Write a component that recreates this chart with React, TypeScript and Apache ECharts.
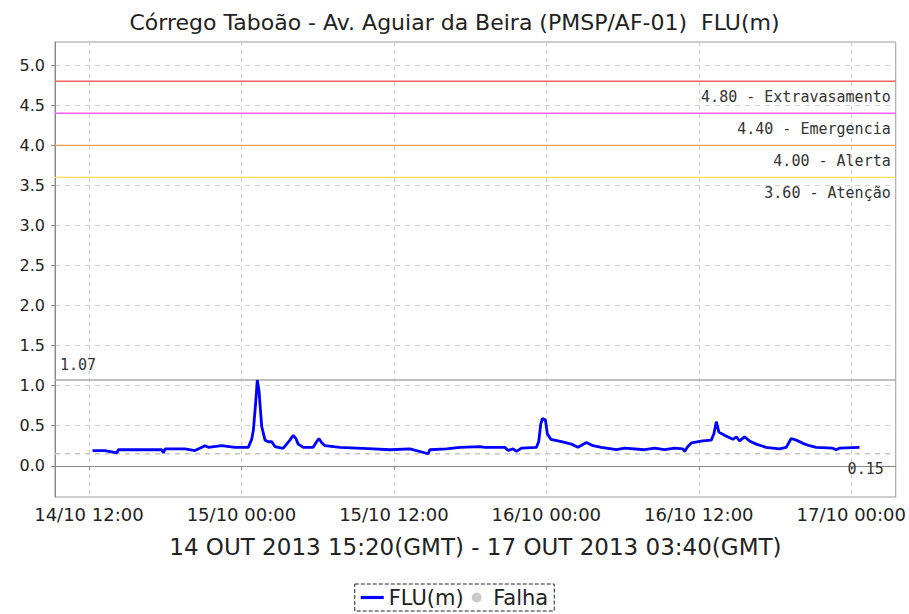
import React, { useEffect, useRef } from "react";
import * as echarts from "echarts";

// hours since 14/10/2013 00:00 (local, GMT-3)
const timeHours = [
  12.28, 13.27, 14.19, 14.32, 15.89, 17.73, 17.86, 17.99, 19.56, 20.35, 21.14, 21.4, 22.45, 23.5,
  24.54, 24.81, 24.94, 25.12, 25.25, 25.38, 25.46, 25.6, 25.86, 26.12, 26.39, 26.64, 27.17, 27.3,
  27.82, 28.08, 28.29, 28.47, 28.87, 29.65, 29.92, 30.1, 30.31, 30.57, 31.75, 33.07, 34.37, 35.69,
  37.26, 38.7, 38.83, 40.14, 41.19, 42.76, 43.15, 44.73, 44.99, 45.38, 45.65, 46.04, 47.22, 47.4,
  47.56, 47.69, 47.93, 48.08, 48.35, 49.19, 49.97, 50.49, 51.15, 51.67, 52.33, 53.51, 54.16, 55.74,
  56.52, 57.31, 58.1, 58.75, 58.88, 59.14, 59.41, 60.32, 60.98, 61.19, 61.38, 61.58, 62.03, 62.42,
  62.68, 62.95, 63.21, 63.6, 63.99, 64.52, 65.3, 66.35, 66.88, 67.27, 67.67, 68.19, 68.71, 69.24,
  70.55, 70.81, 71.07, 72.65,
];
const fluValues = [
  0.19, 0.19, 0.16, 0.2, 0.2, 0.2, 0.16, 0.21, 0.21, 0.19, 0.25, 0.23, 0.25, 0.23,
  0.23, 0.33, 0.44, 0.78, 1.07, 0.95, 0.78, 0.49, 0.32, 0.3, 0.3, 0.24, 0.22, 0.22,
  0.32, 0.38, 0.34, 0.27, 0.23, 0.23, 0.3, 0.34, 0.29, 0.25, 0.23, 0.22, 0.21, 0.2,
  0.21, 0.15, 0.2, 0.21, 0.23, 0.24, 0.23, 0.23, 0.19, 0.21, 0.18, 0.22, 0.23, 0.3,
  0.52, 0.59, 0.57, 0.4, 0.33, 0.3, 0.27, 0.23, 0.29, 0.25, 0.23, 0.2, 0.22, 0.2,
  0.22, 0.2, 0.22, 0.21, 0.18, 0.24, 0.285, 0.31, 0.32, 0.4, 0.55, 0.42, 0.38, 0.35,
  0.33, 0.36, 0.31, 0.36, 0.31, 0.27, 0.23, 0.21, 0.23, 0.34, 0.32, 0.28, 0.25, 0.23,
  0.22, 0.2, 0.22, 0.23,
];

const xTickHours = [12, 24, 36, 48, 60, 72];
const xTickLabels = ["14/10 12:00", "15/10 00:00", "15/10 12:00", "16/10 00:00", "16/10 12:00", "17/10 00:00"];
const yTickValues = [0, 0.5, 1, 1.5, 2, 2.5, 3, 3.5, 4, 4.5, 5];

const thresholdValues = [4.8, 4.4, 4.0, 3.6];
const thresholdNames = ["Extravasamento", "Emergencia", "Alerta", "Atenção"];
const thresholdColors = ["#ff6060", "#ff60ff", "#ffa050", "#ffe050"];

const maxValue = 1.07;
const minValue = 0.15;

const titleText = "Córrego Taboão - Av. Aguiar da Beira (PMSP/AF-01)  FLU(m)";
const periodText = "14 OUT 2013 15:20(GMT) - 17 OUT 2013 03:40(GMT)";

const X_MIN = 9.33;
const X_MAX = 75.5;

export default function App() {
  const ref = useRef<HTMLDivElement>(null);
  useEffect(() => {
    if (!ref.current) return;
    const chart = echarts.init(ref.current, undefined, { renderer: "svg" });
    const labelFont = { fontFamily: "DejaVu Sans Mono", fontSize: 15, color: "#333" };

    // horizontal reference line drawn as a 2-point line series; its label is the end label
    const refLine = (
      name: string,
      value: number,
      color: string,
      type: any,
      atStart: boolean,
      offset: number[],
      text: string,
    ) => ({
      name,
      type: "line",
      data: atStart ? [[X_MAX, value], [X_MIN, value]] : [[X_MIN, value], [X_MAX, value]],
      symbol: "none",
      showSymbol: false,
      silent: true,
      color,
      lineStyle: { color, type, width: 1.4, opacity: 1 },
      endLabel: {
        show: true,
        formatter: text,
        align: atStart ? "left" : "right",
        verticalAlign: "middle",
        offset,
        ...labelFont,
      },
      emphasis: { disabled: true },
      z: 2,
    });

    const markerSeries: any[] = thresholdValues.map((v, i) =>
      refLine(
        "th" + i,
        v,
        thresholdColors[i],
        "solid",
        false,
        [-13, 16],
        `${v.toFixed(2)} - ${thresholdNames[i]}`,
      ),
    );
    markerSeries.push(refLine("max", maxValue, "#aaaaaa", "solid", true, [-3, -15], maxValue.toFixed(2)));
    markerSeries.push(refLine("min", minValue, "#c4c4c4", [5, 5], false, [-20, 15], minValue.toFixed(2)));

    chart.setOption({
      animation: false,
      backgroundColor: "#ffffff",
      title: {
        text: titleText,
        left: "center",
        top: 6,
        textStyle: { fontFamily: "DejaVu Sans", fontSize: 22, fontWeight: "normal", color: "#222" },
      },
      grid: { left: 55, top: 42, right: 13, bottom: 117, show: true, borderColor: "#999", borderWidth: 1 },
      legend: {
        bottom: 3,
        left: "center",
        data: [
          { name: "FLU(m)", icon: "path://M0,0 L22,0 L22,3 L0,3 Z", itemStyle: { color: "#0000ff" } },
          { name: "Falha", icon: "circle", itemStyle: { color: "#bbbbbb" } },
        ],
        itemWidth: 23,
        itemHeight: 10,
        itemGap: 8,
        borderColor: "#222",
        borderWidth: 1,
        borderType: "dashed",
        padding: [3, 6],
        textStyle: { fontFamily: "DejaVu Sans", fontSize: 21, color: "#222" },
      },
      xAxis: {
        type: "value",
        min: X_MIN,
        max: X_MAX,
        name: periodText,
        nameLocation: "middle",
        nameGap: 38,
        nameTextStyle: { fontFamily: "DejaVu Sans", fontSize: 23, color: "#222" },
        axisLine: { show: true, lineStyle: { color: "#888" } },
        axisTick: { show: true, length: 4, customValues: xTickHours, lineStyle: { color: "#888" } },
        axisLabel: {
          customValues: xTickHours,
          margin: 8,
          fontFamily: "DejaVu Sans",
          fontSize: 18,
          color: "#222",
          formatter: (v: number) => {
            const i = xTickHours.indexOf(Math.round(v));
            return i >= 0 ? xTickLabels[i] : "";
          },
        },
        splitLine: { show: true, lineStyle: { color: "#d0d0d0", type: [4, 4] } },
      },
      yAxis: {
        type: "value",
        min: -0.39,
        max: 5.29,
        axisLine: { show: true, lineStyle: { color: "#888" } },
        axisTick: { show: true, length: 4, customValues: yTickValues, lineStyle: { color: "#888" } },
        axisLabel: {
          customValues: yTickValues,
          margin: 10,
          fontFamily: "DejaVu Sans",
          fontSize: 16,
          color: "#222",
          formatter: (v: number) => v.toFixed(1),
        },
        splitLine: { show: true, lineStyle: { color: "#d0d0d0", type: [5, 5] } },
      },
      series: [
        ...markerSeries,
        {
          name: "FLU(m)",
          type: "line",
          data: timeHours.map((t, i) => [t, fluValues[i]]),
          showSymbol: false,
          symbol: "none",
          color: "#0000ff",
          lineStyle: { color: "#0000ff", width: 2.8 },
          z: 3,
        },
        {
          name: "Falha",
          type: "scatter",
          data: [],
          color: "#bbbbbb",
        },
      ],
    });
    return () => chart.dispose();
  }, []);
  return <div ref={ref} style={{ position: "fixed", left: 0, top: 0, width: 909, height: 614 }} />;
}
